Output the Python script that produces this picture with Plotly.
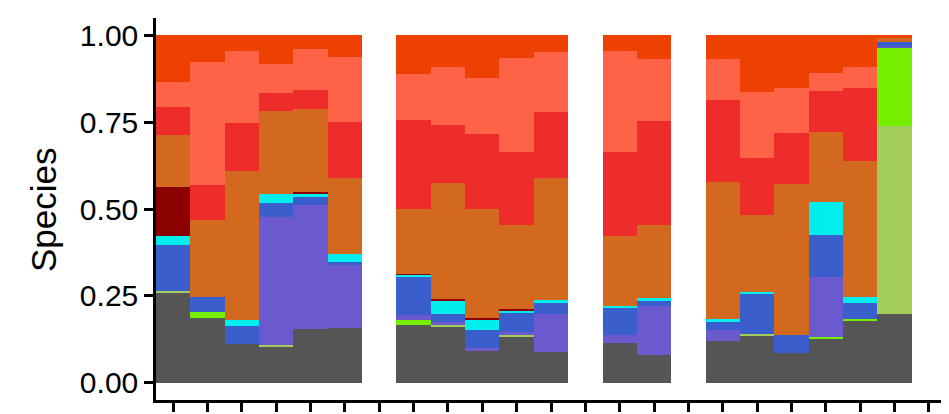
import plotly.graph_objects as go

samples = [f"S{i}" for i in range(1, 24)]

species = ["Gray", "LightGreen", "BrightGreen", "Purple", "Blue", "Cyan",
           "DarkRed", "Chocolate", "Red", "Tomato", "OrangeRed"]
colors = ["#555555", "#A2CD5A", "#76EE00", "#6A5ACD", "#3A5FCD", "#00EEEE",
          "#8B0000", "#D2691E", "#EE2C2C", "#FF6347", "#EE4000"]

N = None
gray        = [0.260, 0.186, 0.111, 0.105, 0.154, 0.157, N, 0.166, 0.163, 0.090, 0.134, 0.087, N, 0.113, 0.081, N, 0.119, 0.137, 0.085, 0.128, 0.177, 0.199, N]
lightgreen  = [0.003, 0.000, 0.000, 0.003, 0.000, 0.000, N, 0.000, 0.003, 0.000, 0.003, 0.000, N, 0.000, 0.000, N, 0.000, 0.003, 0.000, 0.000, 0.000, 0.541, N]
brightgreen = [0.000, 0.016, 0.000, 0.000, 0.000, 0.000, N, 0.013, 0.000, 0.000, 0.000, 0.000, N, 0.000, 0.000, N, 0.000, 0.000, 0.000, 0.003, 0.006, 0.224, N]
purple      = [0.000, 0.000, 0.000, 0.370, 0.357, 0.181, N, 0.015, 0.010, 0.009, 0.008, 0.110, N, 0.023, 0.139, N, 0.034, 0.000, 0.000, 0.172, 0.000, 0.003, N]
blue        = [0.132, 0.044, 0.052, 0.038, 0.023, 0.008, N, 0.112, 0.021, 0.052, 0.058, 0.031, N, 0.081, 0.014, N, 0.023, 0.117, 0.052, 0.121, 0.045, 0.013, N]
cyan        = [0.026, 0.000, 0.017, 0.027, 0.012, 0.023, N, 0.005, 0.040, 0.031, 0.005, 0.009, N, 0.005, 0.009, N, 0.006, 0.003, 0.000, 0.095, 0.020, 0.000, N]
darkred     = [0.142, 0.000, 0.000, 0.000, 0.003, 0.000, N, 0.003, 0.003, 0.003, 0.003, 0.000, N, 0.000, 0.000, N, 0.000, 0.000, 0.000, 0.000, 0.000, 0.000, N]
chocolate   = [0.149, 0.221, 0.429, 0.238, 0.238, 0.219, N, 0.185, 0.336, 0.314, 0.244, 0.351, N, 0.199, 0.212, N, 0.397, 0.224, 0.436, 0.204, 0.389, 0.011, N]
red         = [0.081, 0.103, 0.138, 0.052, 0.055, 0.162, N, 0.258, 0.167, 0.218, 0.208, 0.190, N, 0.242, 0.297, N, 0.236, 0.164, 0.147, 0.118, 0.212, 0.000, N]
tomato      = [0.072, 0.354, 0.207, 0.084, 0.118, 0.187, N, 0.133, 0.167, 0.161, 0.273, 0.175, N, 0.293, 0.181, N, 0.118, 0.190, 0.129, 0.052, 0.061, 0.000, N]
orangered   = [0.135, 0.076, 0.046, 0.083, 0.040, 0.063, N, 0.110, 0.090, 0.122, 0.064, 0.047, N, 0.044, 0.067, N, 0.067, 0.162, 0.151, 0.107, 0.090, 0.009, N]

series = [gray, lightgreen, brightgreen, purple, blue, cyan,
          darkred, chocolate, red, tomato, orangered]

y_ticks = [0, 0.25, 0.5, 0.75, 1.0]
y_ticktext = ["0.00", "0.25", "0.50", "0.75", "1.00"]

fig = go.Figure()
for name, vals, col in zip(species, series, colors):
    fig.add_trace(go.Bar(x=samples, y=vals, name=name,
                         marker=dict(color=col, line=dict(width=0)),
                         showlegend=False))

axis_font = dict(family="Liberation Sans, Arial, sans-serif", size=30, color="black")

# page body has an 8px default margin, so the figure is shifted by 8px
fig.update_layout(
    width=941, height=406,
    margin=dict(l=148, r=3, t=10, b=14),
    barmode="stack", bargap=0,
    plot_bgcolor="white", paper_bgcolor="white",
    font=axis_font,
    xaxis=dict(type="category", range=[-0.5, len(samples) - 0.5],
               showticklabels=False, ticks="outside", ticklen=9, tickwidth=2.5,
               tickcolor="black", showline=True, linewidth=2.5, linecolor="black",
               showgrid=False, zeroline=False),
    yaxis=dict(range=[-0.05, 1.05], tickvals=y_ticks, ticktext=y_ticktext,
               ticks="outside", ticklen=9, tickwidth=2.5, tickcolor="black",
               showline=True, linewidth=2.5, linecolor="black",
               showgrid=False, zeroline=False, tickfont=axis_font),
    annotations=[dict(text="Species", textangle=-90, xref="paper", yref="paper",
                      x=(35 - 148) / 790, y=0.5, xanchor="center", yanchor="middle",
                      showarrow=False,
                      font=dict(family="Liberation Sans, Arial, sans-serif", size=35, color="black"))],
)

fig.write_html("out.html")
